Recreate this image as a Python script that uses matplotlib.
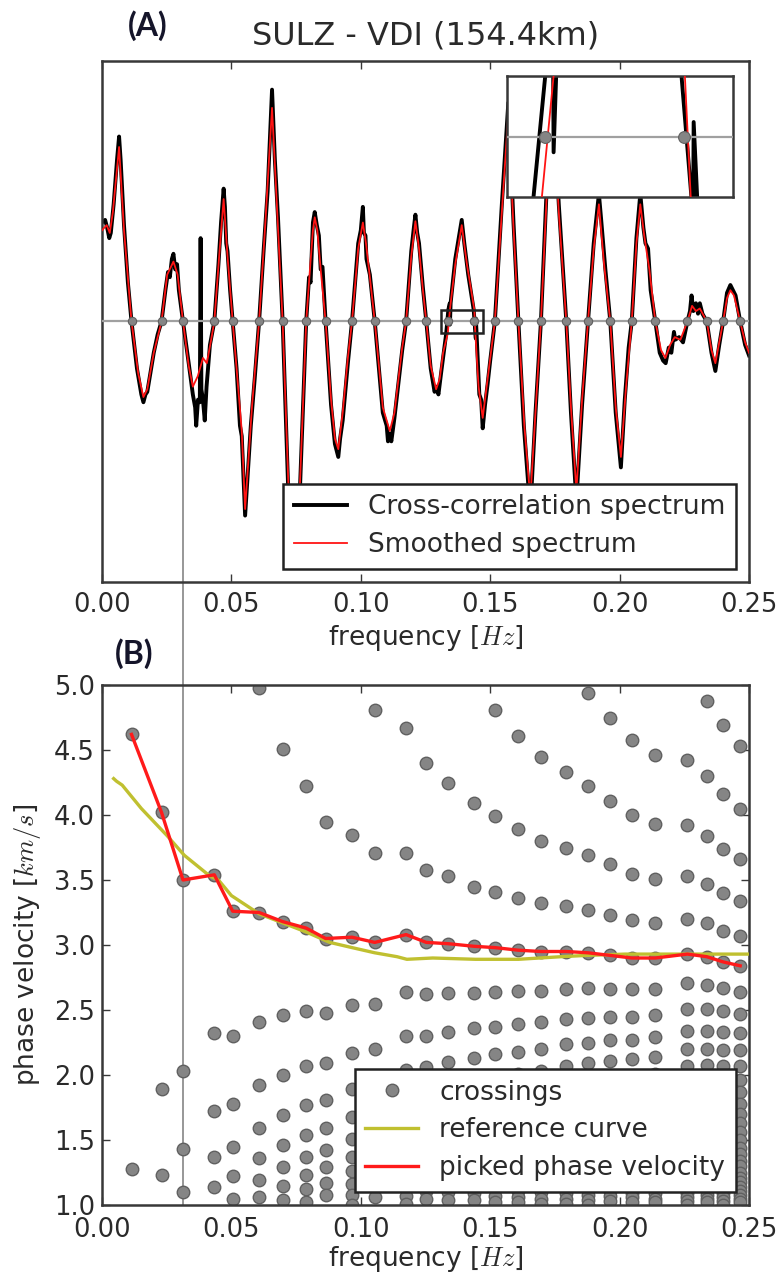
import matplotlib
matplotlib.use("Agg")
import matplotlib.pyplot as plt
from matplotlib.lines import Line2D
from matplotlib.patches import Rectangle

plt.rcParams['font.family'] = ['DejaVu Sans']
plt.rcParams['mathtext.fontset'] = 'cm'

# ------------------------------------------------------------------ data
title_text = 'SULZ - VDI (154.4km)'
x_ticks = [0.00, 0.05, 0.10, 0.15, 0.20, 0.25]
x_ticklabels = ['0.00', '0.05', '0.10', '0.15', '0.20', '0.25']
y_ticks_B = [1.0, 1.5, 2.0, 2.5, 3.0, 3.5, 4.0, 4.5, 5.0]
y_ticklabels_B = ['1.0', '1.5', '2.0', '2.5', '3.0', '3.5', '4.0', '4.5', '5.0']

# zero crossings of the smoothed spectrum [Hz]
cross_f = [0.0114, 0.0230, 0.0313, 0.0434, 0.0505, 0.0607, 0.0698, 0.0789, 0.0864,
           0.0966, 0.1054, 0.1175, 0.1253, 0.1338, 0.1438, 0.1518, 0.1609, 0.1696,
           0.1794, 0.1878, 0.1964, 0.2047, 0.2138, 0.2262, 0.2337, 0.2400, 0.2466]

# smoothed spectrum (red)
smooth_f = [0.0000, 0.0018, 0.0030, 0.0042, 0.0066, 0.0085, 0.0114, 0.0140, 0.0160, 0.0175,
            0.0200, 0.0230, 0.0252, 0.0276, 0.0292, 0.0313, 0.0335, 0.0351, 0.0370, 0.0390,
            0.0405, 0.0420, 0.0434, 0.0455, 0.0470, 0.0485, 0.0505, 0.0530, 0.0540, 0.0553,
            0.0565, 0.0580, 0.0607, 0.0630, 0.0657, 0.0680, 0.0698, 0.0720, 0.0742, 0.0765,
            0.0789, 0.0805, 0.0815, 0.0822, 0.0832, 0.0845, 0.0864, 0.0885, 0.0900, 0.0913,
            0.0930, 0.0950, 0.0966, 0.0990, 0.1008, 0.1020, 0.1035, 0.1054, 0.1085, 0.1112,
            0.1130, 0.1160, 0.1175, 0.1195, 0.1211, 0.1225, 0.1240, 0.1253, 0.1270, 0.1291,
            0.1305, 0.1318, 0.1336, 0.13444, 0.1365, 0.1390, 0.1410, 0.14385, 0.14427, 0.1455,
            0.1471, 0.1490, 0.1518, 0.1545, 0.1570, 0.1590, 0.1609, 0.1632, 0.1655, 0.1675,
            0.1696, 0.1720, 0.1742, 0.1765, 0.1794, 0.1812, 0.1833, 0.1855, 0.1878, 0.1900,
            0.1920, 0.1940, 0.1964, 0.1985, 0.2005, 0.2025, 0.2047, 0.2065, 0.2080, 0.2095,
            0.2115, 0.2138, 0.2160, 0.2177, 0.2195, 0.2213, 0.2235, 0.2262, 0.2280, 0.2295,
            0.2310, 0.2337, 0.2355, 0.2370, 0.2385, 0.2400, 0.2415, 0.2428, 0.2442, 0.2466,
            0.2485, 0.2500]
smooth_amp = [0.35, 0.37, 0.34, 0.42, 0.67, 0.35, 0.00, -0.20, -0.29, -0.26,
              -0.12, 0.00, 0.18, 0.23, 0.18, 0.00, -0.17, -0.25, -0.21, -0.14,
              -0.16, -0.08, 0.00, 0.28, 0.47, 0.25, 0.00, -0.30, -0.42, -0.72,
              -0.54, -0.32, 0.00, 0.36, 0.82, 0.36, 0.00, -0.62, -0.83, -0.62,
              0.00, 0.22, 0.35, 0.40, 0.35, 0.20, 0.00, -0.30, -0.45, -0.49,
              -0.35, -0.14, 0.00, 0.28, 0.38, 0.30, 0.17, 0.00, -0.33, -0.42,
              -0.35, -0.10, 0.00, 0.25, 0.385, 0.28, 0.12, 0.00, -0.17, -0.26,
              -0.22, -0.12, -0.046, 0.046, 0.22, 0.37, 0.22, 0.046, -0.046, -0.25,
              -0.37, -0.22, 0.00, 0.42, 0.80, 0.36, 0.00, -0.40, -0.68, -0.35,
              0.00, 0.52, 0.84, 0.42, 0.00, -0.33, -0.65, -0.30, 0.00, 0.28,
              0.45, 0.22, 0.00, -0.33, -0.52, -0.25, 0.00, 0.30, 0.45, 0.33,
              0.20, 0.00, -0.11, -0.14, -0.09, -0.06, -0.07, 0.00, 0.06, 0.04,
              0.05, 0.00, -0.11, -0.16, -0.08, 0.00, 0.09, 0.12, 0.10, 0.00,
              -0.08, -0.12]

# raw cross-correlation spectrum (black)
raw_f = [0.0000, 0.0012, 0.0020, 0.0028, 0.0034, 0.0045, 0.0058, 0.0066, 0.0072, 0.0085,
         0.0100, 0.0114, 0.0135, 0.0152, 0.0160, 0.0168, 0.0175, 0.0190, 0.0200, 0.0215,
         0.0230, 0.0245, 0.0255, 0.0262, 0.0270, 0.0276, 0.0283, 0.0290, 0.0297, 0.0305,
         0.0313, 0.0335, 0.0351, 0.0360, 0.0364, 0.0371, 0.0378, 0.0381, 0.0384, 0.0390,
         0.0397, 0.0404, 0.0417, 0.0434, 0.0450, 0.0460, 0.0470, 0.0475, 0.0480, 0.0485,
         0.0495, 0.0505, 0.0520, 0.0533, 0.0540, 0.0553, 0.0565, 0.0575, 0.0590, 0.0607,
         0.0625, 0.0640, 0.0657, 0.0668, 0.0680, 0.0698, 0.0720, 0.0742, 0.0765, 0.0789,
         0.0800, 0.0806, 0.0815, 0.0822, 0.0830, 0.0838, 0.0845, 0.0852, 0.0864, 0.0885,
         0.0900, 0.0913, 0.0920, 0.0930, 0.0950, 0.0966, 0.0990, 0.1000, 0.1008, 0.1012,
         0.1018, 0.1022, 0.1035, 0.1054, 0.1085, 0.1100, 0.1105, 0.1112, 0.1118, 0.1130,
         0.1160, 0.1175, 0.1195, 0.1205, 0.1211, 0.1218, 0.1225, 0.1232, 0.1240, 0.1253,
         0.1270, 0.1285, 0.1291, 0.1300, 0.1310, 0.1330, 0.13384, 0.13440, 0.13444, 0.13470,
         0.1365, 0.1385, 0.1390, 0.1400, 0.1415, 0.14361, 0.14432, 0.14444, 0.14448, 0.14473,
         0.1458, 0.1465, 0.1471, 0.1480, 0.1490, 0.1500, 0.1518, 0.1545, 0.1570, 0.1590,
         0.1609, 0.1630, 0.1655, 0.1675, 0.1696, 0.1720, 0.1742, 0.1765, 0.1794, 0.1812,
         0.1833, 0.1855, 0.1878, 0.1900, 0.1915, 0.1920, 0.1928, 0.1945, 0.1964, 0.1985,
         0.2005, 0.2020, 0.2035, 0.2047, 0.2065, 0.2080, 0.2092, 0.2100, 0.2110, 0.2120,
         0.2138, 0.2155, 0.2168, 0.2178, 0.2190, 0.2200, 0.2210, 0.2215, 0.2230, 0.2245,
         0.2262, 0.2272, 0.2278, 0.2285, 0.2295, 0.2303, 0.2310, 0.2320, 0.2337, 0.2355,
         0.2370, 0.2385, 0.2400, 0.2415, 0.2428, 0.2438, 0.2448, 0.2466, 0.2485, 0.2500]
raw_amp = [0.38, 0.39, 0.36, 0.32, 0.34, 0.45, 0.62, 0.71, 0.62, 0.37,
           0.15, 0.00, -0.18, -0.28, -0.31, -0.28, -0.27, -0.18, -0.12, -0.05,
           0.00, 0.12, 0.19, 0.17, 0.24, 0.26, 0.20, 0.22, 0.12, 0.06,
           0.00, -0.16, -0.28, -0.33, -0.40, -0.30, -0.31, 0.32, -0.26, -0.30,
           -0.38, -0.25, -0.09, 0.00, 0.22, 0.38, 0.51, 0.44, 0.30, 0.27,
           0.12, 0.00, -0.18, -0.40, -0.44, -0.745, -0.56, -0.40, -0.22, 0.00,
           0.28, 0.50, 0.89, 0.62, 0.40, 0.00, -0.66, -0.88, -0.64, 0.00,
           0.17, 0.15, 0.38, 0.42, 0.37, 0.33, 0.20, 0.21, 0.00, -0.32,
           -0.47, -0.52, -0.45, -0.38, -0.16, 0.00, 0.30, 0.35, 0.44, 0.34,
           0.33, 0.24, 0.18, 0.00, -0.35, -0.40, -0.46, -0.43, -0.46, -0.37,
           -0.11, 0.00, 0.27, 0.36, 0.41, 0.34, 0.30, 0.22, 0.13, 0.00,
           -0.18, -0.27, -0.25, -0.28, -0.20, -0.046, 0.046, 0.07, -0.012, 0.07,
           0.24, 0.36, 0.39, 0.30, 0.18, 0.046, -0.046, -0.065, 0.011, -0.046,
           -0.28, -0.30, -0.41, -0.32, -0.24, -0.15, 0.00, 0.45, 0.84, 0.38,
           0.00, -0.40, -0.73, -0.35, 0.00, 0.55, 0.88, 0.45, 0.00, -0.35,
           -0.69, -0.32, 0.00, 0.30, 0.44, 0.49, 0.40, 0.20, 0.00, -0.35,
           -0.56, -0.30, -0.10, 0.00, 0.32, 0.49, 0.36, 0.30, 0.28, 0.12,
           0.00, -0.12, -0.15, -0.16, -0.10, -0.12, -0.04, -0.07, -0.06, -0.08,
           0.00, 0.04, 0.10, 0.04, 0.07, 0.03, 0.07, 0.03, 0.00, -0.12,
           -0.19, -0.09, 0.00, 0.11, 0.14, 0.12, 0.10, 0.00, -0.09, -0.13]

# zoom box shown in the inset
box_f = [0.1311, 0.1473]
box_amp = [-0.046, 0.046]

# phase velocity candidates at each crossing [km/s]
vel_columns = [
    [4.62, 1.28],
    [4.02, 1.89, 1.23],
    [3.50, 2.03, 1.43, 1.10],
    [3.54, 2.32, 1.72, 1.37, 1.14],
    [3.26, 2.30, 1.78, 1.45, 1.22, 1.05],
    [4.98, 3.25, 2.41, 1.92, 1.59, 1.36, 1.19, 1.06],
    [4.51, 3.18, 2.46, 2.00, 1.69, 1.46, 1.29, 1.15, 1.04],
    [4.22, 3.13, 2.49, 2.07, 1.77, 1.54, 1.37, 1.23, 1.12, 1.02],
    [3.95, 3.05, 2.48, 2.09, 1.81, 1.59, 1.42, 1.29, 1.17, 1.08],
    [3.85, 3.06, 2.54, 2.17, 1.89, 1.68, 1.51, 1.37, 1.26, 1.16, 1.08, 1.00],
    [4.81, 3.71, 3.02, 2.55, 2.20, 1.94, 1.73, 1.57, 1.43, 1.31, 1.22, 1.13, 1.06],
    [4.67, 3.71, 3.08, 2.64, 2.30, 2.04, 1.84, 1.67, 1.53, 1.41, 1.31, 1.22, 1.14, 1.07, 1.01],
    [4.40, 3.58, 3.02, 2.62, 2.30, 2.06, 1.86, 1.70, 1.56, 1.44, 1.34, 1.26, 1.18, 1.11, 1.05],
    [4.25, 3.53, 3.01, 2.63, 2.33, 2.10, 1.90, 1.74, 1.61, 1.49, 1.39, 1.30, 1.23, 1.16, 1.10, 1.04],
    [4.09, 3.45, 2.99, 2.63, 2.36, 2.13, 1.94, 1.79, 1.65, 1.54, 1.44, 1.35, 1.27, 1.21, 1.14,
     1.09, 1.04],
    [4.81, 3.99, 3.41, 2.98, 2.64, 2.37, 2.16, 1.97, 1.82, 1.69, 1.58, 1.48, 1.39, 1.31, 1.24,
     1.18, 1.12, 1.07, 1.02],
    [4.61, 3.89, 3.36, 2.96, 2.65, 2.39, 2.18, 2.01, 1.86, 1.73, 1.61, 1.52, 1.43, 1.35, 1.28,
     1.22, 1.16, 1.11, 1.06, 1.02],
    [4.45, 3.80, 3.32, 2.95, 2.65, 2.41, 2.20, 2.03, 1.89, 1.76, 1.65, 1.55, 1.46, 1.39, 1.32,
     1.25, 1.20, 1.14, 1.10, 1.05, 1.01],
    [4.33, 3.75, 3.30, 2.95, 2.66, 2.43, 2.24, 2.07, 1.92, 1.80, 1.69, 1.59, 1.51, 1.43, 1.36,
     1.29, 1.24, 1.18, 1.14, 1.09, 1.05, 1.01],
    [4.94, 4.22, 3.69, 3.27, 2.94, 2.67, 2.44, 2.25, 2.09, 1.95, 1.83, 1.72, 1.62, 1.54, 1.46,
     1.39, 1.33, 1.27, 1.22, 1.17, 1.12, 1.08, 1.04, 1.00],
    [4.75, 4.11, 3.62, 3.23, 2.92, 2.66, 2.45, 2.27, 2.11, 1.97, 1.85, 1.74, 1.65, 1.56, 1.49,
     1.42, 1.36, 1.30, 1.24, 1.20, 1.15, 1.11, 1.07, 1.03],
    [4.58, 4.00, 3.55, 3.19, 2.90, 2.66, 2.45, 2.27, 2.12, 1.99, 1.87, 1.77, 1.67, 1.59, 1.51,
     1.44, 1.38, 1.32, 1.27, 1.22, 1.17, 1.13, 1.09, 1.06, 1.02],
    [4.46, 3.93, 3.51, 3.17, 2.90, 2.66, 2.46, 2.29, 2.14, 2.01, 1.90, 1.79, 1.70, 1.62, 1.54,
     1.47, 1.41, 1.35, 1.30, 1.25, 1.20, 1.16, 1.12, 1.09, 1.05, 1.02],
    [4.42, 3.92, 3.53, 3.20, 2.93, 2.71, 2.51, 2.34, 2.20, 2.07, 1.95, 1.85, 1.76, 1.67, 1.59,
     1.53, 1.46, 1.40, 1.35, 1.30, 1.25, 1.21, 1.17, 1.13, 1.09, 1.06, 1.03, 1.00],
    [4.88, 4.30, 3.84, 3.47, 3.17, 2.91, 2.69, 2.51, 2.34, 2.20, 2.08, 1.96, 1.86, 1.77, 1.69,
     1.61, 1.54, 1.48, 1.42, 1.37, 1.32, 1.27, 1.23, 1.19, 1.15, 1.11, 1.08, 1.05, 1.02],
    [4.69, 4.16, 3.74, 3.40, 3.11, 2.87, 2.67, 2.49, 2.33, 2.19, 2.07, 1.96, 1.86, 1.77, 1.69,
     1.62, 1.55, 1.49, 1.43, 1.38, 1.33, 1.28, 1.24, 1.20, 1.16, 1.13, 1.09, 1.06, 1.03, 1.00],
    [4.53, 4.05, 3.66, 3.34, 3.07, 2.84, 2.64, 2.47, 2.32, 2.19, 2.07, 1.96, 1.87, 1.78, 1.70,
     1.63, 1.56, 1.50, 1.44, 1.39, 1.34, 1.30, 1.25, 1.21, 1.18, 1.14, 1.11, 1.08, 1.05, 1.02],
]

# picked phase velocity (one per crossing)
picked_v = [4.62, 4.02, 3.50, 3.54, 3.26, 3.25, 3.18, 3.13, 3.05, 3.06, 3.02, 3.08, 3.02, 3.01,
            2.99, 2.98, 2.96, 2.95, 2.95, 2.94, 2.92, 2.90, 2.90, 2.93, 2.91, 2.87, 2.84]

# reference dispersion curve
ref_f = [0.0045, 0.0056, 0.0078, 0.0152, 0.0252, 0.0318, 0.0417, 0.0450, 0.0500, 0.0607,
         0.0698, 0.0789, 0.0880, 0.0966, 0.1054, 0.1140, 0.1178, 0.1278, 0.1443, 0.1609,
         0.1774, 0.1873, 0.2022, 0.2270, 0.2500]
ref_v = [4.28, 4.26, 4.23, 4.05, 3.84, 3.69, 3.53, 3.50, 3.38, 3.24,
         3.17, 3.10, 3.02, 2.98, 2.94, 2.91, 2.89, 2.90, 2.89, 2.89,
         2.91, 2.92, 2.93, 2.93, 2.93]

# ------------------------------------------------------------------ figure
W, H = 781, 1277
fig = plt.figure(figsize=(W / 100, H / 100), dpi=100)


def rect(l, t, r, b):
    return [l / W, 1 - b / H, (r - l) / W, (b - t) / H]


axA = fig.add_axes(rect(102, 61, 749, 582))
axB = fig.add_axes(rect(102, 685, 749, 1205))
axI = fig.add_axes(rect(507, 76, 733, 197))

spine_col = '#383838'
txt_col = '#2a2a2a'
black_lw, red_lw = 2.8, 1.3
dot_face, dot_edge = '#858585', '#606060'

for ax in (axA, axB, axI):
    ax.set_facecolor('none')
    for s in ax.spines.values():
        s.set_color(spine_col)
        s.set_linewidth(1.8)

# ---- panel A
axA.plot(raw_f, raw_amp, color='black', lw=black_lw, zorder=2,
         label='Cross-correlation spectrum')
axA.plot(smooth_f, smooth_amp, color='#ff1414', lw=red_lw, zorder=3,
         label='Smoothed spectrum')
axA.axhline(0, color='#a0a0a0', lw=1.6, zorder=4)
axA.plot(cross_f, [0] * len(cross_f), 'o', ms=6, mfc=dot_face, mec=dot_edge,
         mew=0.8, zorder=5)
axA.add_patch(Rectangle((box_f[0], box_amp[0]), box_f[1] - box_f[0],
                        box_amp[1] - box_amp[0], fill=False, ec='#222222',
                        lw=1.8, zorder=6))
axA.set_xlim(0, 0.25)
axA.set_ylim(-1, 1)
axA.set_yticks([])
axA.set_xticks(x_ticks)
axA.set_xticklabels(x_ticklabels)
axA.tick_params(axis='x', direction='in', top=True, length=6, width=1,
                color=spine_col, labelsize=18.5, labelcolor=txt_col, pad=7)
axA.set_xlabel('frequency [$Hz$]', fontsize=19, color=txt_col, labelpad=4)
axA.set_title(title_text, fontsize=23, color=txt_col, pad=12)
legA = axA.legend(loc='lower right', fontsize=19, fancybox=False, framealpha=1,
                  edgecolor='#222222', borderpad=0.4, handlelength=2.0,
                  labelspacing=0.45)
legA.get_frame().set_linewidth(1.8)
legA.set_zorder(10)
for t in legA.get_texts():
    t.set_color(txt_col)

# ---- inset
axI.set_facecolor('white')
axI.plot(raw_f, raw_amp, color='black', lw=black_lw, zorder=2)
axI.plot(smooth_f, smooth_amp, color='#ff1414', lw=red_lw, zorder=3)
axI.axhline(0, color='#a0a0a0', lw=1.6, zorder=4)
axI.plot(cross_f, [0] * len(cross_f), 'o', ms=8.5, mfc=dot_face, mec=dot_edge,
         mew=0.8, zorder=5)
axI.set_xlim(box_f)
axI.set_ylim(box_amp)
axI.set_xticks([])
axI.set_yticks([])
axI.set_zorder(5)

# ---- panel B
all_f, all_v = [], []
for f, col in zip(cross_f, vel_columns):
    all_f += [f] * len(col)
    all_v += col
axB.plot(all_f, all_v, 'o', ms=9, mfc=dot_face, mec=dot_edge, mew=1.0,
         zorder=2, label='crossings')
axB.plot(ref_f, ref_v, color='#c0c030', lw=2.4, zorder=3, label='reference curve')
axB.plot(cross_f, picked_v, color='#ff1a1a', lw=2.4, zorder=4,
         label='picked phase velocity')
axB.set_xlim(0, 0.25)
axB.set_ylim(1.0, 5.0)
axB.set_xticks(x_ticks)
axB.set_xticklabels(x_ticklabels)
axB.set_yticks(y_ticks_B)
axB.set_yticklabels(y_ticklabels_B)
axB.tick_params(direction='in', top=True, right=True, length=6, width=1,
                color=spine_col, labelsize=18.5, labelcolor=txt_col)
axB.tick_params(axis='x', pad=8.5)
axB.tick_params(axis='y', pad=5)
axB.set_xlabel('frequency [$Hz$]', fontsize=19, color=txt_col, labelpad=1)
axB.set_ylabel('phase velocity [$km/s$]', fontsize=19, color=txt_col, labelpad=8)
legB = axB.legend(loc='lower right', fontsize=19, fancybox=False, framealpha=1,
                  edgecolor='#222222', borderpad=0.4, handlelength=2.0,
                  labelspacing=0.45, numpoints=1)
legB.get_frame().set_linewidth(1.8)
legB.set_zorder(10)
for t in legB.get_texts():
    t.set_color(txt_col)

# ---- vertical connector at the third crossing
inv = fig.transFigure.inverted()
p_top = inv.transform(axA.transData.transform((cross_f[2], 0.0)))
p_bot = inv.transform(axB.transData.transform((cross_f[2], 1.0)))
fig.add_artist(Line2D([p_top[0], p_bot[0]], [p_top[1], p_bot[1]],
                      transform=fig.transFigure, color='#8f8f8f', lw=1.3,
                      zorder=-1))

# ---- panel letters
fig.text(148 / W, 1 - 26 / H, '(A)', fontsize=23, fontweight='bold',
         family=['Lato', 'DejaVu Sans'], ha='center', va='center', color='#15152a')
fig.text(134 / W, 1 - 654 / H, '(B)', fontsize=23, fontweight='bold',
         family=['Lato', 'DejaVu Sans'], ha='center', va='center', color='#15152a')

fig.savefig('out.png', dpi=100)
